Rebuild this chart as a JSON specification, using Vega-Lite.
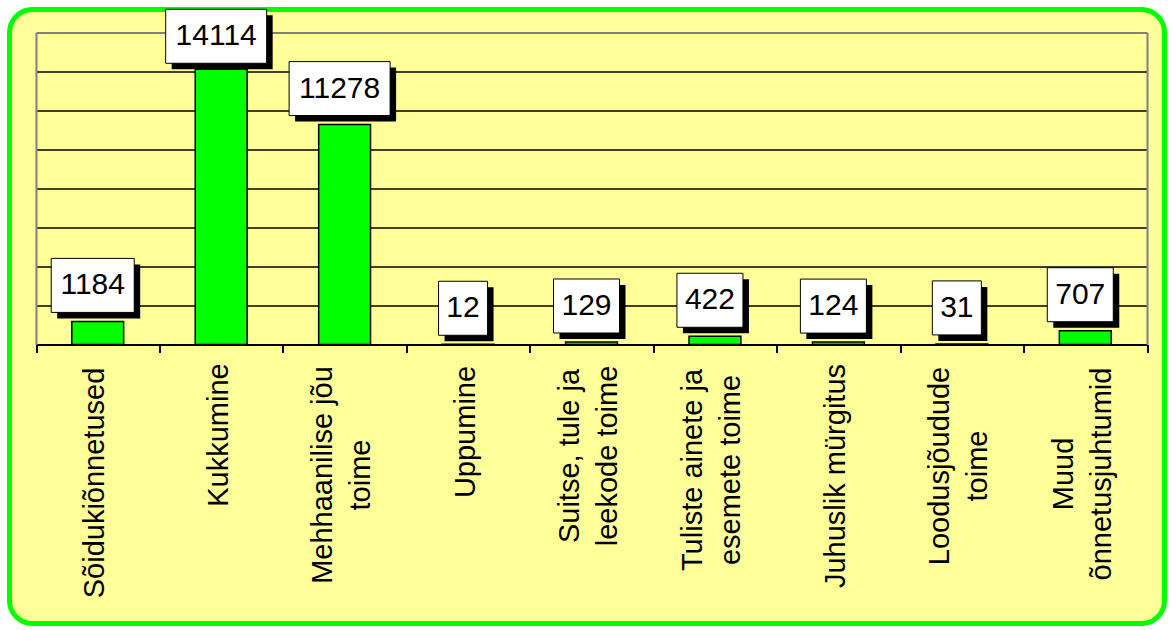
{
  "$schema": "https://vega.github.io/schema/vega-lite/v6.json",
  "width": 1155,
  "height": 614,
  "autosize": {"type": "none"},
  "padding": {"left": 9.5, "top": 9.5, "right": 6.5, "bottom": 6.5},
  "background": "white",
  "config": {
    "view": {"fill": "#FFFF99", "stroke": "#00FF00", "strokeWidth": 5, "cornerRadius": 23},
    "font": "Liberation Sans"
  },
  "data": {
    "values": [
      {"category": "Sõidukiõnnetused", "value": 1184},
      {"category": "Kukkumine", "value": 14114},
      {"category": "Mehhaanilise jõu toime", "value": 11278},
      {"category": "Uppumine", "value": 12},
      {"category": "Suitse, tule ja leekode toime", "value": 129},
      {"category": "Tuliste ainete ja esemete toime", "value": 422},
      {"category": "Juhuslik mürgitus", "value": 124},
      {"category": "Loodusjõudude toime", "value": 31},
      {"category": "Muud õnnetusjuhtumid", "value": 707}
    ]
  },
  "encoding": {
    "x": {
      "field": "category",
      "type": "nominal",
      "sort": null,
      "scale": {"range": [26.5, 1137.5], "paddingInner": 0, "paddingOuter": 0},
      "axis": {
        "title": null,
        "orient": "bottom",
        "offset": -279,
        "grid": false,
        "tickBand": "extent",
        "domainColor": "black",
        "domainWidth": 2,
        "tickColor": "black",
        "tickWidth": 2,
        "tickSize": 8,
        "labelAngle": -90,
        "labelAlign": "center",
        "labelBaseline": "middle",
        "labelFont": "Liberation Sans",
        "labelFontSize": 29,
        "labelColor": "black",
        "labelPadding": {"expr": "datum.value == 'Sõidukiõnnetused' ? 130 : datum.value == 'Kukkumine' ? 82 : datum.value == 'Mehhaanilise jõu toime' ? 122 : datum.value == 'Uppumine' ? 79 : datum.value == 'Suitse, tule ja leekode toime' ? 103 : datum.value == 'Tuliste ainete ja esemete toime' ? 117 : datum.value == 'Juhuslik mürgitus' ? 123 : datum.value == 'Loodusjõudude toime' ? 113 : 121"},
        "labelOffset": {"expr": "indexof(['Mehhaanilise jõu toime', 'Suitse, tule ja leekode toime', 'Tuliste ainete ja esemete toime', 'Loodusjõudude toime', 'Muud õnnetusjuhtumid'], datum.value) >= 0 ? -22 : -3"},
        "labelLimit": 0,
        "labelLineHeight": 38,
        "labelOverlap": false,
        "labelExpr": "datum.value == 'Mehhaanilise jõu toime' ? ['Mehhaanilise jõu', 'toime'] : datum.value == 'Suitse, tule ja leekode toime' ? ['Suitse, tule ja', 'leekode toime'] : datum.value == 'Tuliste ainete ja esemete toime' ? ['Tuliste ainete ja', 'esemete toime'] : datum.value == 'Loodusjõudude toime' ? ['Loodusjõudude', 'toime'] : datum.value == 'Muud õnnetusjuhtumid' ? ['Muud', 'õnnetusjuhtumid'] : datum.label"
      }
    }
  },
  "layer": [
    {
      "mark": {"type": "bar", "width": {"band": 0.42}, "fill": "#00FF00", "stroke": "black", "strokeWidth": 1.5, "opacity": 1},
      "encoding": {
        "y": {
          "field": "value",
          "type": "quantitative",
          "scale": {"domain": [0, 16000], "range": [335, 23], "nice": false, "zero": true},
          "axis": {
            "orient": "left",
            "offset": -26.5,
            "title": null,
            "values": [0, 2000, 4000, 6000, 8000, 10000, 12000, 14000, 16000],
            "grid": true,
            "gridColor": {"condition": {"test": "datum.value >= 16000", "value": "#808080"}, "value": "black"},
            "gridWidth": {"condition": {"test": "datum.value >= 16000", "value": 2}, "value": 1.5},
            "ticks": false,
            "labels": false,
            "domainColor": "#808080",
            "domainWidth": 2
          }
        }
      }
    },
    {
      "mark": {"type": "point", "filled": true, "size": 10000, "fill": "black", "strokeWidth": 0, "opacity": 1, "xOffset": 1, "yOffset": {"expr": "datum.value > 13000 ? -27 : -30"}},
      "encoding": {
        "y": {"field": "value", "type": "quantitative", "axis": null},
        "shape": {
          "condition": [
            {"test": "datum.value >= 10000", "value": "M-1.01,-0.54H1.01V0.54H-1.01Z"},
            {"test": "datum.value >= 1000", "value": "M-0.83,-0.54H0.83V0.54H-0.83Z"},
            {"test": "datum.value >= 100", "value": "M-0.66,-0.54H0.66V0.54H-0.66Z"}
          ],
          "value": "M-0.49,-0.54H0.49V0.54H-0.49Z"
        }
      }
    },
    {
      "mark": {"type": "point", "filled": true, "size": 10000, "fill": "white", "stroke": "black", "strokeWidth": 1, "opacity": 1, "xOffset": -5, "yOffset": {"expr": "datum.value > 13000 ? -33 : -36"}},
      "encoding": {
        "y": {"field": "value", "type": "quantitative", "axis": null},
        "shape": {
          "condition": [
            {"test": "datum.value >= 10000", "value": "M-1.01,-0.54H1.01V0.54H-1.01Z"},
            {"test": "datum.value >= 1000", "value": "M-0.83,-0.54H0.83V0.54H-0.83Z"},
            {"test": "datum.value >= 100", "value": "M-0.66,-0.54H0.66V0.54H-0.66Z"}
          ],
          "value": "M-0.49,-0.54H0.49V0.54H-0.49Z"
        }
      }
    },
    {
      "mark": {"type": "text", "font": "Liberation Sans", "fontSize": 30, "color": "black", "align": "center", "baseline": "middle", "xOffset": -5, "yOffset": {"expr": "datum.value > 13000 ? -33 : -36"}},
      "encoding": {
        "y": {
          "field": "value",
          "type": "quantitative",
          "axis": {
            "orient": "right",
            "offset": -17.5,
            "title": null,
            "grid": false,
            "ticks": false,
            "labels": false,
            "domainColor": "#808080",
            "domainWidth": 2
          }
        },
        "text": {"field": "value", "type": "quantitative", "format": "d"}
      }
    }
  ],
  "resolve": {"axis": {"y": "independent"}}
}
